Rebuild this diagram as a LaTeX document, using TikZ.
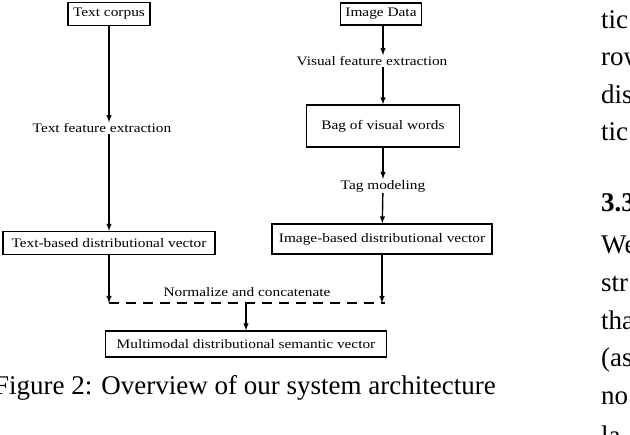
\documentclass[tikz,border=0pt]{standalone}
\usepackage{fontspec}
\setmainfont{Liberation Serif}
\newfontfamily\figfont[FakeStretch=1.18]{Liberation Serif}

\tikzset{
  stagebox/.style={draw, line width=1.3pt, inner xsep=5pt, minimum height=23pt,
    font=\figfont\fontsize{13}{15}\selectfont},
  steplabel/.style={inner sep=1pt, font=\figfont\fontsize{13}{15}\selectfont},
  flow/.style={-latex, line width=1.4pt},
  joinline/.style={line width=1.8pt, dash pattern=on 10pt off 7pt},
  pagetext/.style={anchor=base west, inner sep=0pt, font=\fontsize{27}{32}\selectfont}
}

\begin{document}
\begin{tikzpicture}[x=1pt, y=-1pt]
    \useasboundingbox (0,0) rectangle (630,435);
    \clip (0,0) rectangle (630,435);

    % text side
    \node[stagebox] (corpus) at (109,14) {Text corpus};
    \node[steplabel] (textfeat) at (102,128) {Text feature extraction};
    \node[stagebox, minimum width=212] (textvec) at (109,243) {Text-based distributional vector};

    % image side
    \node[stagebox, minimum height=22] (imgdata) at (381,14) {Image Data};
    \node[steplabel] (visfeat) at (372,61) {Visual feature extraction};
    \node[stagebox, minimum width=153, minimum height=42] (bovw) at (383,126) {Bag of visual words};
    \node[steplabel] (tagmod) at (383,186) {Tag modeling};
    \node[stagebox, minimum width=220, minimum height=30] (imgvec) at (382,239) {Image-based distributional vector};

    % fusion
    \node[steplabel] (normcat) at (247,292) {Normalize and concatenate};
    \node[stagebox, minimum width=281, minimum height=26] (multi) at (246,344) {Multimodal distributional semantic vector};

    \coordinate (joinL) at (textvec.south |- 0,303);
    \coordinate (joinR) at (imgvec.south |- 0,303);
    \coordinate (joinM) at (multi.north |- 0,303);

    \draw [flow] (corpus.south -| textvec) -- (textfeat.north -| textvec);
    \draw [flow] (textfeat.south -| textvec) -- (textvec);
    \draw [flow] (imgdata.south -| bovw) -- (visfeat.north -| bovw);
    \draw [flow] (visfeat.south -| bovw) -- (bovw);
    \draw [flow] (bovw) -- (tagmod);
    \draw [flow] (tagmod) -- (imgvec);
    \draw [flow] (textvec) -- (joinL);
    \draw [flow] (imgvec) -- (joinR);
    \draw [joinline] (joinL) -- ([xshift=3pt]joinR);
    \draw [flow] (joinM) -- (multi);

    % caption and the page around it
    \node[pagetext] (caption) at (-6,395) {Figure 2: Overview of our system architecture};
    \node[pagetext] (r1) at (601,29) {tic};
    \node[pagetext] (r2) at (601,66) {row};
    \node[pagetext] (r3) at (601,104) {dis};
    \node[pagetext] (r4) at (601,141) {tic};
    \node[pagetext, font=\bfseries\fontsize{27}{32}\selectfont] (r5) at (601,212) {3.3};
    \node[pagetext] (r6) at (601,254) {We};
    \node[pagetext] (r7) at (601,292) {str};
    \node[pagetext] (r8) at (601,330) {tha};
    \node[pagetext] (r9) at (601,367) {(as};
    \node[pagetext] (r10) at (601,405) {no};
    \node[pagetext] (r11) at (601,445) {la};
\end{tikzpicture}
\end{document}
